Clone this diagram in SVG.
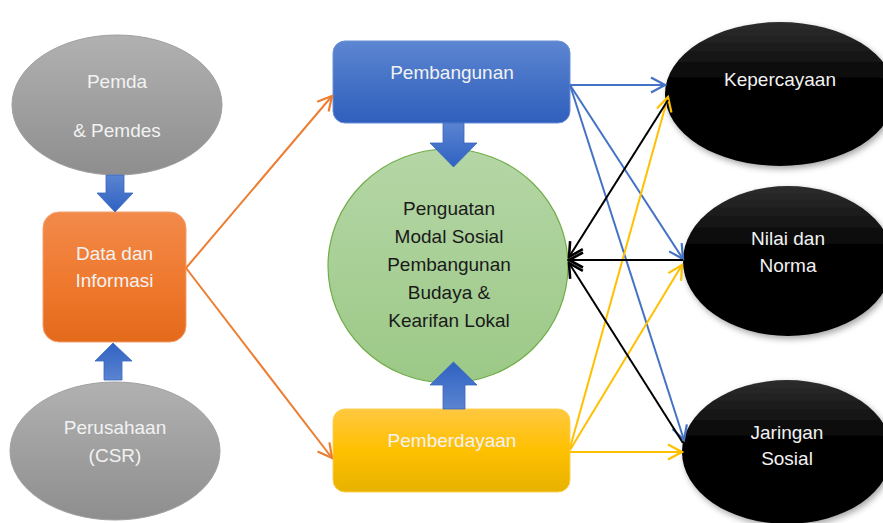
<svg xmlns="http://www.w3.org/2000/svg" width="883" height="523" viewBox="0 0 883 523">
<defs>
  <linearGradient id="gGray" x1="0" y1="0" x2="0" y2="1">
    <stop offset="0" stop-color="#b1b1b1"/><stop offset="1" stop-color="#8e8e8e"/>
  </linearGradient>
  <linearGradient id="gOrange" x1="0" y1="0" x2="0" y2="1">
    <stop offset="0" stop-color="#f28a4b"/><stop offset="0.5" stop-color="#ef7a30"/><stop offset="1" stop-color="#e46a1b"/>
  </linearGradient>
  <linearGradient id="gBlue" x1="0" y1="0" x2="0" y2="1">
    <stop offset="0" stop-color="#5d86d2"/><stop offset="0.5" stop-color="#4572c6"/><stop offset="1" stop-color="#2f5fbd"/>
  </linearGradient>
  <linearGradient id="gYellow" x1="0" y1="0" x2="0" y2="1">
    <stop offset="0" stop-color="#ffc840"/><stop offset="0.5" stop-color="#ffc000"/><stop offset="1" stop-color="#e6b200"/>
  </linearGradient>
  <linearGradient id="gGreen" x1="0" y1="0" x2="0" y2="1">
    <stop offset="0" stop-color="#b5d6a6"/><stop offset="1" stop-color="#9cc987"/>
  </linearGradient>
  <linearGradient id="gBlack" x1="0" y1="0" x2="0" y2="1">
    <stop offset="0" stop-color="#2e2e2e"/><stop offset="0.45" stop-color="#000"/><stop offset="1" stop-color="#000"/>
  </linearGradient>
  <linearGradient id="gArrowDown" x1="0" y1="0" x2="0" y2="1">
    <stop offset="0" stop-color="#5b84d1"/><stop offset="1" stop-color="#2f62c2"/>
  </linearGradient>
  <linearGradient id="gArrowUp" x1="0" y1="1" x2="0" y2="0">
    <stop offset="0" stop-color="#5b84d1"/><stop offset="1" stop-color="#2f62c2"/>
  </linearGradient>
  <filter id="shadow" x="-20%" y="-20%" width="140%" height="140%">
    <feDropShadow dx="2" dy="3" stdDeviation="3" flood-color="#000" flood-opacity="0.35"/>
  </filter>
  <marker id="aOrange" markerUnits="userSpaceOnUse" markerWidth="18" markerHeight="18" viewBox="0 0 18 18" refX="16" refY="9" orient="auto">
    <path d="M2,1.5 L16,9 L2,16.5" fill="none" stroke="#ed7d31" stroke-width="2.2"/>
  </marker>
  <marker id="aBlue" markerUnits="userSpaceOnUse" markerWidth="18" markerHeight="18" viewBox="0 0 18 18" refX="16" refY="9" orient="auto">
    <path d="M2,1.5 L16,9 L2,16.5" fill="none" stroke="#4472c4" stroke-width="2.2"/>
  </marker>
  <marker id="aYellow" markerUnits="userSpaceOnUse" markerWidth="18" markerHeight="18" viewBox="0 0 18 18" refX="16" refY="9" orient="auto">
    <path d="M2,1.5 L16,9 L2,16.5" fill="none" stroke="#ffc000" stroke-width="2.2"/>
  </marker>
  <marker id="aBlack" markerUnits="userSpaceOnUse" markerWidth="18" markerHeight="18" viewBox="0 0 18 18" refX="16" refY="9" orient="auto">
    <path d="M2,1.5 L16,9 L2,16.5" fill="none" stroke="#000" stroke-width="2.6"/>
  </marker>
</defs>
<style>
  text { font-family: "Liberation Sans", Arial, sans-serif; font-size: 19px; text-anchor: middle; dominant-baseline: central; }
  .lt { fill: #f2f2f2; }
  .dk { fill: #1a1a1a; }
  .blk { fill: url(#gBlack); filter: url(#shadow); }
  .blockArrow { stroke: #3a67bd; stroke-width: 0.8; }
  .conn line { fill: none; stroke-width: 2; }
  .or { stroke: #ed7d31; marker-end: url(#aOrange); }
  .bl { stroke: #4472c4; marker-end: url(#aBlue); }
  .ye { stroke: #ffc000; marker-end: url(#aYellow); }
  .bk { stroke: #000; marker-end: url(#aBlack); }
</style>

<g id="pemda">
  <ellipse cx="117" cy="105" rx="105" ry="70" fill="url(#gGray)" stroke="#a0a0a0" stroke-width="1"/>
  <text class="lt" x="117" y="81">Pemda</text>
  <text class="lt" x="117" y="130">&amp; Pemdes</text>
</g>
<g id="data">
  <rect x="43" y="212" width="143" height="130" rx="16" fill="url(#gOrange)" stroke="#f2a070" stroke-width="1"/>
  <text class="lt" x="114.5" y="253">Data dan</text>
  <text class="lt" x="114.5" y="280">Informasi</text>
</g>
<g id="perusahaan">
  <ellipse cx="115" cy="451" rx="105" ry="69" fill="url(#gGray)" stroke="#a0a0a0" stroke-width="1"/>
  <text class="lt" x="115" y="427">Perusahaan</text>
  <text class="lt" x="115" y="455">(CSR)</text>
</g>
<g id="pembangunan">
  <rect x="333" y="41" width="237" height="82" rx="12" fill="url(#gBlue)" stroke="#6a8fd6" stroke-width="1"/>
  <text class="lt" x="452" y="72">Pembangunan</text>
</g>
<g id="penguatan">
  <ellipse cx="448" cy="266" rx="120" ry="117" fill="url(#gGreen)" stroke="#70ad47" stroke-width="1.2"/>
  <text class="dk" x="449" y="208">Penguatan</text>
  <text class="dk" x="449" y="236">Modal Sosial</text>
  <text class="dk" x="449" y="264">Pembangunan</text>
  <text class="dk" x="449" y="292">Budaya &amp;</text>
  <text class="dk" x="449" y="320">Kearifan Lokal</text>
</g>
<g id="pemberdayaan">
  <rect x="333" y="409" width="237" height="83" rx="12" fill="url(#gYellow)" stroke="#ffd050" stroke-width="1"/>
  <text class="lt" x="452" y="440">Pemberdayaan</text>
</g>
<g id="kepercayaan">
  <ellipse class="blk" cx="780" cy="94" rx="115" ry="72"/>
  <text class="lt" x="780" y="79">Kepercayaan</text>
</g>
<g id="nilai">
  <ellipse class="blk" cx="788" cy="261" rx="105" ry="75"/>
  <text class="lt" x="788" y="238">Nilai dan</text>
  <text class="lt" x="788" y="265">Norma</text>
</g>
<g id="jaringan">
  <ellipse class="blk" cx="787" cy="452" rx="105" ry="72"/>
  <text class="lt" x="787" y="432">Jaringan</text>
  <text class="lt" x="787" y="458">Sosial</text>
</g>

<g id="connectors" class="conn">
  <polygon class="blockArrow" fill="url(#gArrowDown)" points="106,175 124,175 124,193 133,193 115,212 97,193 106,193"/>
  <polygon class="blockArrow" fill="url(#gArrowUp)" points="104,380 122,380 122,361 132,361 113,343 95,361 104,361"/>
  <polygon class="blockArrow" fill="url(#gArrowDown)" points="443,123 464,123 464,143 477,143 453.5,167 430,143 443,143"/>
  <polygon class="blockArrow" fill="url(#gArrowUp)" points="443,409 465,409 465,385 477,385 453.5,362 430,385 443,385"/>
  <line class="or" x1="186" y1="268" x2="332" y2="96"/>
  <line class="or" x1="186" y1="268" x2="332" y2="458"/>
  <line class="bl" x1="570" y1="85" x2="665" y2="85"/>
  <line class="bl" x1="570" y1="85" x2="683" y2="259"/>
  <line class="bl" x1="570" y1="85" x2="684" y2="440"/>
  <line class="ye" x1="570" y1="452" x2="682" y2="452"/>
  <line class="ye" x1="570" y1="450" x2="682" y2="265"/>
  <line class="ye" x1="570" y1="448" x2="668" y2="97"/>
  <line class="bk" x1="668" y1="100" x2="569" y2="257"/>
  <line class="bk" x1="683" y1="260" x2="569" y2="260"/>
  <line class="bk" x1="683" y1="443" x2="569" y2="263"/>
</g>
</svg>
